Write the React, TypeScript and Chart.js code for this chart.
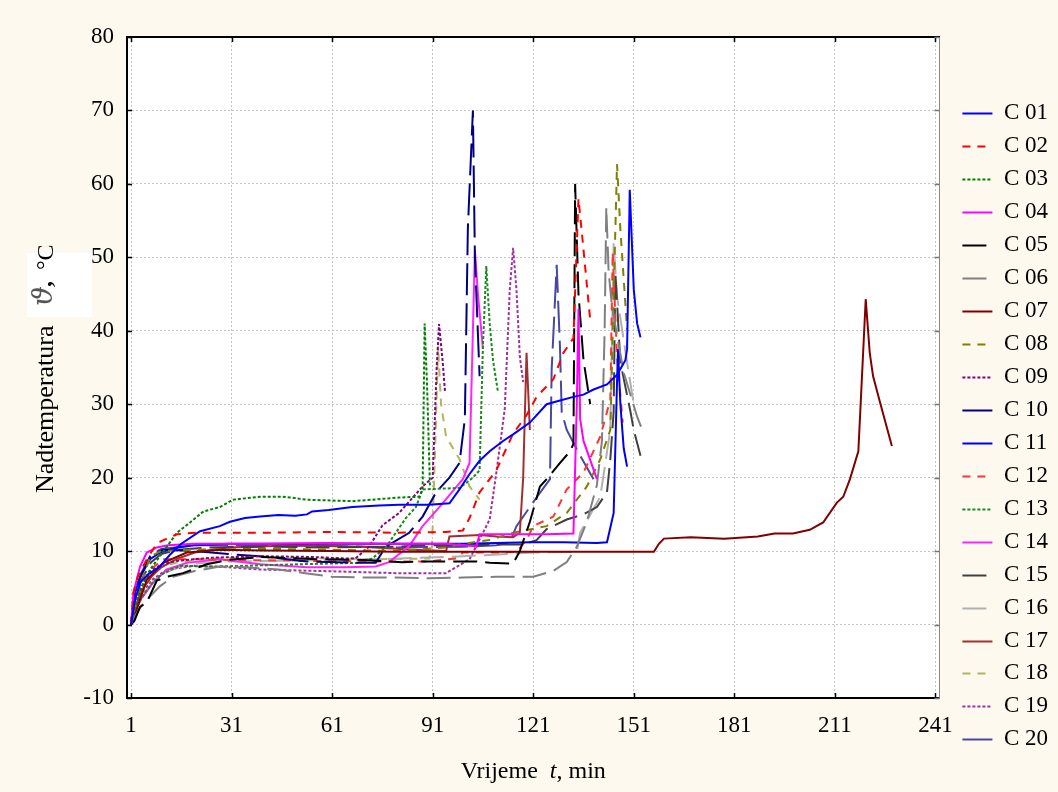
import React, { useEffect, useRef } from 'react';
import { Chart, registerables } from 'chart.js';

Chart.register(...registerables);

const FONT = "'Liberation Serif', 'Times New Roman', serif";

const xTickValues = [1, 31, 61, 91, 121, 151, 181, 211, 241];
const yTickValues = [-10, 0, 10, 20, 30, 40, 50, 60, 70, 80];

const seriesNames = ['C 01', 'C 02', 'C 03', 'C 04', 'C 05', 'C 06', 'C 07', 'C 08', 'C 09', 'C 10',
  'C 11', 'C 12', 'C 13', 'C 14', 'C 15', 'C 16', 'C 17', 'C 18', 'C 19', 'C 20'];

const c01 = [[1,0],[2,3],[3.7,5.7],[6,6.8],[9.6,7.9],[12.6,9.5],[16,11],[21.6,12.7],[27.5,13.4],[30.5,14],[35,14.5],[39.5,14.7],[45,14.9],[50,14.8],[53.5,15],[55,15.4],[60,15.6],[67,16],[75,16.2],[81,16.3],[90,16.3],[96,16.5],[99,18.4],[102,20.5],[105,22.3],[108,23.6],[112,25],[115,25.9],[120,27.5],[125,30],[129,30.5],[133,31],[136,31.3],[139,32],[143,32.7],[146,34],[148.5,36],[149,37.5],[149.8,59.2],[151,45.6],[152,41],[153,39.1]];
const c02 = [[1,0],[1.7,4.3],[3,6.5],[5.7,8.9],[8.8,11.1],[11.7,11.7],[14.7,12.3],[20,12.5],[40,12.5],[60,12.6],[80,12.5],[95,12.6],[100,12.8],[102,14.5],[105,18],[110,21],[115,26],[119,28.5],[122,31],[127,33.4],[130,37],[133,39],[134.5,58],[135.5,53.4],[138,41.5]];
const c03 = [[1,0],[2,2],[4,5],[6.7,7.5],[11.7,10.6],[14.7,12.5],[18.6,13.9],[22.6,15.4],[27.5,16],[31.4,17],[39.5,17.4],[46,17.4],[48.4,17.3],[53.5,17],[67,16.8],[73,17],[81,17.3],[87,17.4],[88,18.4],[88.6,41],[89.3,33],[90.2,18.8]];
const c04 = [[1,0],[1.7,4.3],[3.7,7.9],[5.7,9.8],[8.7,10.5],[12,10.8],[20,11],[40,11],[60,11.1],[80,11],[95,11],[103,10.7],[104,10.6],[105,12.3],[115,12.3],[125,12.3],[133,12.4],[134,30],[134.5,43],[135,28],[136,25],[140,19.8]];
const c05 = [[1,0],[2,0.5],[3.7,2.4],[5.7,3],[8.7,6],[11.7,6.5],[16.5,7],[23.6,8.2],[30,8.8],[40,9.2],[57,8.9],[70,8.8],[82,8.5],[89,8.6],[104,8.6],[108,8.4],[115,8.3],[117,10],[120,14],[123,18.8],[125,19.8],[129,22],[132,23.6],[133,24.6],[133.5,60],[134.5,45],[136,36],[137,33],[138,30]];
const c06 = [[1,0],[2,1],[4,2.5],[7,4],[9.6,5.2],[13.5,6.5],[20,7.3],[27.5,7.9],[35,7.8],[45,7.5],[53,7],[61,6.5],[70,6.4],[79,6.4],[90,6.3],[100,6.4],[110,6.5],[121,6.5],[127,7.3],[131,8.5],[134,10.6],[137,14],[140,19],[141.5,25],[142.3,40],[142.8,56.8],[143.5,48],[144.5,43.3],[148,34.3],[152,28.3],[154,26]];
const c07 = [[1,0],[2,1],[3,2.5],[5.7,6.1],[10.6,8.4],[17.6,9.8],[27.5,10.2],[40,10.1],[60,10],[80,9.9],[100,9.9],[120,9.9],[140,9.9],[153,9.9],[157,9.9],[158.5,11],[160,11.7],[168,11.9],[178,11.7],[188,12],[193,12.4],[198.5,12.4],[203.5,12.9],[207.5,13.9],[211.6,16.6],[213.5,17.4],[215.5,19.8],[218,23.6],[220.2,44.3],[221.4,37],[222.4,33.8],[224.5,30.2],[228,24.3]];
const c08 = [[1,0],[2,2],[4,5.5],[6.7,9.3],[10,10],[20,10.2],[40,10.3],[60,10.2],[80,10],[95,10.5],[100,11],[108,11.5],[115,12.5],[125,13.4],[131,15.2],[137,18.8],[141,22.5],[144,26.5],[145,44.7],[146,62.7],[147,53.8],[149,40.2]];
const c09 = [[1,0],[2,2],[4,5],[7,7.3],[10,8.2],[15,8.7],[25,9.1],[40,9.3],[55,9.2],[65,9],[68,9],[72,10.6],[76,13.5],[81,15.2],[88,18.8],[91,20],[92.2,35],[92.9,40.9],[94,35.7],[94.7,31.6]];
const c10 = [[1,0],[1.5,2],[3,5.7],[6.7,9.3],[10.6,10.2],[20,10],[30,9.6],[39.5,9.3],[53.5,8.6],[69,8.4],[74,8.4],[77,10.6],[84,12.5],[88,14.7],[92,18],[96,20],[99,22],[100.6,28],[101.5,54],[103,70],[103.6,50],[105,33.8]];
const c11 = [[1,0],[2,4],[3.7,6.5],[6.7,8.9],[9.6,9.8],[14.7,10.5],[20,10.8],[30,11],[60,11],[90,11],[100,11],[120,11.2],[130,11.2],[140,11.1],[143,11.2],[145,15.2],[146,33],[146.3,37.5],[147,30],[148,24],[149,21.5]];
const c12 = [[1,0],[2,2],[4,5],[7,7.5],[10.5,8.9],[22,8.9],[30,8.8],[50,8.7],[68,8.6],[90,8.6],[98,9],[100,9.8],[110,9.8],[116,9.9],[119,11.5],[121,13.4],[127,14.7],[131,18.4],[136,20.7],[141,25.6],[144,30.6],[144.7,50.7],[146,36.5],[147.7,27.5]];
const c13 = [[1,0],[2,1.5],[4,3.5],[7,5.5],[10,6.8],[13,7.5],[16,8],[25,7.9],[35,8],[50,8.2],[69,8.4],[73,9],[77,10.5],[80,12.5],[83,14.5],[86,16],[88,18.4],[99,18.6],[103,20],[105,21],[106,38],[107,48.8],[108,41],[109,36],[110.5,31.6]];
const c14 = [[1,0],[2,1.5],[4,3.5],[7.6,5.7],[11.7,7.5],[17.6,8.4],[27.5,8.9],[39.5,8.2],[53.5,7.8],[61,7.8],[65,7.8],[74,7.9],[78,8.5],[84,10.7],[88,13.4],[93,16],[100,19.8],[102,22],[103,40],[103.6,51],[104.5,45],[105,42.5],[106,37.5]];
const c15 = [[1,0],[2,2.5],[4,6],[7,8.5],[10,9.6],[15,10.2],[25,10.5],[40,10.6],[60,10.5],[80,10.6],[88,10.8],[103,10.8],[110,10.9],[118,10.9],[122,11.5],[125,13],[131,14.3],[136,15],[140,16],[143,18],[144,22.5],[145,29],[145.5,48],[147,35.7],[150,29],[151,26.5],[153,23]];
const c16 = [[1,0],[2,1.5],[4,3.5],[7,5.5],[10,6.8],[15,7.8],[20,8.3],[30,8.6],[50,8.7],[75,8.9],[100,9.3],[121,9.8],[134,9.9],[135,12.5],[141,17.4],[144,26.5],[145,52],[146,44.7],[149,35.7],[151,30]];
const c17 = [[1,0],[2,2],[4,4.5],[7,6.5],[10,7.8],[15,9],[20,9.8],[30,10.5],[50,10.8],[70,10.6],[85,10.2],[95,10],[96,12],[105,12.2],[110,12],[115,11.9],[117,12.5],[118,20],[119,37],[120,26.5]];
const c18 = [[1,0],[2,1.5],[4,4],[7,6.5],[10,7.8],[15,8.5],[25,9],[40,9.2],[60,9],[75,8.9],[90,9],[90.8,10.6],[91.8,25],[92.6,37.9],[93.5,30],[95,25.6],[99,22.5],[102,18.8],[105,17]];
const c19 = [[1,0],[2,1.5],[4,4],[7,6],[11.7,7.5],[20,8],[30,7.8],[39,7.5],[65,7.2],[80,7],[95,7],[102,8.9],[108,14.3],[110,20.7],[112.5,29.3],[114,45.6],[115,51.3],[116,45.6],[117,36.5],[118,33]];
const c20 = [[1,0],[2,3],[4,7],[7,9.5],[10,10.3],[20,10.8],[40,10.8],[60,10.7],[80,10.5],[100,10.6],[110,10.8],[114,11.2],[116,13.4],[122,17.3],[126,19.8],[126.5,34.7],[128,49],[129,37.5],[129.5,28.9],[131,26.5],[135,23],[139,19.8]];

const seriesData = [c01, c02, c03, c04, c05, c06, c07, c08, c09, c10, c11, c12, c13, c14, c15, c16, c17, c18, c19, c20];

const SOLID: number[] = [];
const DASH = [8, 7];
const DOT = [3, 2];
const LONG = [24, 8];
const XLONG = [32, 8];

const seriesColors = ['#0000ff', '#ff0000', '#008000', '#ff00ff', '#000000', '#808080', '#800000', '#808000', '#800080', '#000080',
  '#0000ee', '#ff3333', '#1a8a1a', '#ff22ff', '#404040', '#b0b0b0', '#a03030', '#b4b45a', '#a030a0', '#4848a0'];
const seriesDashes = [SOLID, DASH, DOT, SOLID, LONG, LONG, SOLID, DASH, DOT, XLONG,
  SOLID, DASH, DOT, SOLID, LONG, LONG, SOLID, DASH, DOT, XLONG];

const BG = '#fdf9ef';
const LEGEND_FONT_SIZE = 23;
const LEGEND_SAMPLE = 30;

const decorPlugin = {
  id: 'decor',
  beforeDraw(chart: any) {
    const { ctx, chartArea } = chart;
    ctx.save();
    ctx.fillStyle = BG;
    ctx.fillRect(0, 0, chart.width, chart.height);
    ctx.fillStyle = '#ffffff';
    ctx.fillRect(chartArea.left, chartArea.top, chartArea.right - chartArea.left, chartArea.bottom - chartArea.top);
    ctx.restore();
  },
  afterDraw(chart: any) {
    const { ctx, chartArea } = chart;
    const { left, right, top, bottom } = chartArea;
    const xs = chart.scales.x;
    const ys = chart.scales.y;
    const line = (x1: number, y1: number, x2: number, y2: number) => {
      ctx.beginPath();
      ctx.moveTo(x1, y1);
      ctx.lineTo(x2, y2);
      ctx.stroke();
    };
    ctx.save();
    ctx.setLineDash([]);
    ctx.lineWidth = 1.5;
    ctx.strokeStyle = '#000';
    xTickValues.forEach((v) => {
      const px = Math.round(xs.getPixelForValue(v)) + 0.5;
      line(px, bottom, px, bottom - 5);
      line(px, top, px, top + 5);
    });
    yTickValues.forEach((v) => {
      const py = Math.round(ys.getPixelForValue(v)) + 0.5;
      ctx.strokeStyle = '#000';
      line(left, py, left + 5, py);
      ctx.strokeStyle = '#777';
      line(right, py, right - 5, py);
    });
    ctx.restore();

    // legend line samples (with each dataset's dash pattern)
    const boxes = chart.legend && chart.legend.legendHitBoxes;
    if (boxes) {
      ctx.save();
      chart.data.datasets.forEach((ds: any, i: number) => {
        const hb = boxes[i];
        if (!hb) return;
        const y = Math.round(hb.top + LEGEND_FONT_SIZE / 2) + 0.5;
        ctx.strokeStyle = ds.borderColor;
        ctx.lineWidth = 2;
        ctx.lineCap = 'butt';
        ctx.setLineDash(ds.borderDash || []);
        line(hb.left, y, hb.left + LEGEND_SAMPLE, y);
      });
      ctx.restore();
    }

    // x axis title: "Vrijeme  t, min" with italic t
    ctx.save();
    ctx.fillStyle = '#000';
    ctx.textBaseline = 'alphabetic';
    ctx.textAlign = 'left';
    const normal = `24px ${FONT}`;
    const italic = `italic 24px ${FONT}`;
    const parts: [string, string][] = [['Vrijeme  ', normal], ['t', italic], [', min', normal]];
    let total = 0;
    parts.forEach(([t, f]) => { ctx.font = f; total += ctx.measureText(t).width; });
    let xx = (left + right) / 2 - total / 2;
    parts.forEach(([t, f]) => { ctx.font = f; ctx.fillText(t, xx, 778); xx += ctx.measureText(t).width; });
    ctx.restore();

    // y axis title, rotated
    ctx.save();
    ctx.translate(53, 0);
    ctx.rotate(-Math.PI / 2);
    ctx.textBaseline = 'alphabetic';
    ctx.textAlign = 'left';
    ctx.fillStyle = '#000';
    ctx.font = `26px ${FONT}`;
    ctx.fillText('Nadtemperatura', -493, 0);
    ctx.fillStyle = '#ffffff';
    ctx.fillRect(-317, -26, 64, 65);
    ctx.fillStyle = '#555';
    ctx.font = `italic 28px 'DejaVu Serif', ${FONT}`;
    ctx.fillText('\u03d1', -306, -1);
    ctx.fillStyle = '#000';
    ctx.font = `bold 24px ${FONT}`;
    ctx.fillText(',', -287, -2);
    ctx.font = `24px ${FONT}`;
    ctx.fillText('\u00b0C', -270, 0);
    ctx.restore();
  },
};

export default function App() {
  const ref = useRef<HTMLCanvasElement | null>(null);

  useEffect(() => {
    if (!ref.current) return;
    const datasets = seriesData.map((d, i) => ({
      label: seriesNames[i],
      data: d.map(([x, y]) => ({ x, y })),
      borderColor: seriesColors[i],
      backgroundColor: seriesColors[i],
      borderDash: seriesDashes[i],
      borderWidth: 2,
      pointRadius: 0,
      tension: 0,
      fill: false,
    }));
    const tickFont = { family: FONT, size: 23 };
    const baseLabels = (Chart as any).defaults.plugins.legend.labels.generateLabels;
    const chart = new Chart(ref.current, {
      type: 'line',
      data: { datasets },
      options: {
        animation: false,
        responsive: false,
        layout: { padding: { left: 0, right: 0, top: 0, bottom: 0 } },
        plugins: {
          legend: {
            position: 'right',
            align: 'start',
            title: { display: true, text: ' ', padding: { top: 79.85, bottom: 0 }, font: { size: 10 } },
            labels: {
              usePointStyle: false,
              boxWidth: LEGEND_SAMPLE,
              boxHeight: 0,
              padding: 9.95,
              color: '#000',
              font: { family: FONT, size: LEGEND_FONT_SIZE },
              generateLabels: (c: any) => baseLabels(c).map((it: any) => ({
                ...it,
                lineWidth: 0,
                fillStyle: 'rgba(0,0,0,0)',
                strokeStyle: 'rgba(0,0,0,0)',
              })),
            },
          },
          tooltip: { enabled: false },
        },
        scales: {
          x: {
            type: 'linear',
            position: 'bottom',
            min: -0.2,
            max: 242.2,
            afterBuildTicks: (s: any) => { s.ticks = xTickValues.map((v) => ({ value: v })); },
            afterFit: (s: any) => { s.height = 94; },
            ticks: { font: tickFont, color: '#000', padding: 14, autoSkip: false, maxRotation: 0 },
            grid: { color: '#c4c4c4', lineWidth: 1, drawTicks: false },
            border: { display: true, color: '#000', width: 2, dash: [2, 2] },
          },
          x2: {
            type: 'linear',
            position: 'top',
            min: -0.2,
            max: 242.2,
            afterFit: (s: any) => { s.height = 37; },
            ticks: { display: false },
            grid: { display: false, drawTicks: false },
            border: { display: true, color: '#000', width: 2 },
          },
          y: {
            type: 'linear',
            position: 'left',
            min: -10,
            max: 80,
            afterBuildTicks: (s: any) => { s.ticks = yTickValues.map((v) => ({ value: v })); },
            afterFit: (s: any) => { s.width = 127; },
            ticks: { font: tickFont, color: '#000', padding: 13 },
            grid: { color: '#c4c4c4', lineWidth: 1, drawTicks: false },
            border: { display: true, color: '#000', width: 2, dash: [2, 2] },
          },
          y2: {
            type: 'linear',
            position: 'right',
            min: -10,
            max: 80,
            afterFit: (s: any) => { s.width = 13; },
            ticks: { display: false },
            grid: { display: false, drawTicks: false },
            border: { display: true, color: '#888', width: 1 },
          },
        },
      },
      plugins: [decorPlugin],
    } as any);
    return () => chart.destroy();
  }, []);

  return (
    <div style={{ position: 'absolute', left: 0, top: 0, width: 1058, height: 792, background: BG }}>
      <canvas ref={ref} width={1058} height={792} style={{ display: 'block' }} />
    </div>
  );
}
